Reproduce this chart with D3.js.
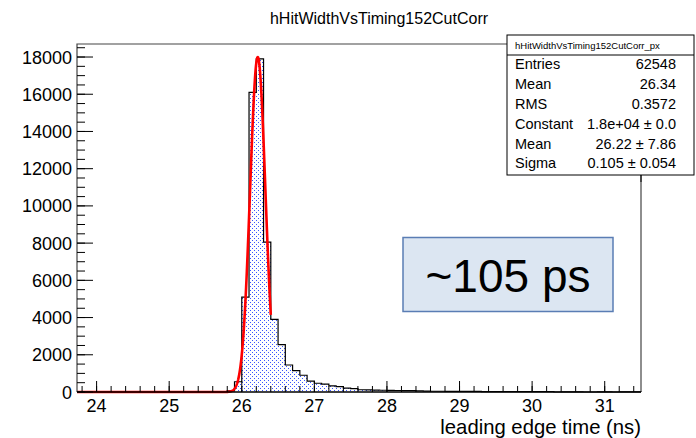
<!DOCTYPE html>
<html><head><meta charset="utf-8">
<script src="https://cdn.jsdelivr.net/npm/d3@7"></script>
<style>body{margin:0;background:#fff}svg{display:block}text{font-family:"Liberation Sans",Arial,sans-serif}</style>
</head><body><svg id="c" width="696" height="438"></svg>
<script>
// ---- data ----
const binStart = 25.7, binWidth = 0.1;
const counts = [0,60,550,5100,16100,17900,8050,3900,2550,1450,1150,900,580,470,420,330,290,210,180,
 120,110,100,95,90,80,75,70,60,
 45,40,40,35,35,30,30,30,25,25,25,20,20,20,20,15,15,15,
 0,10,10,10,0,0,10,10,0,10,10,10];
const xTicks = [24,25,26,27,28,29,30,31];
const yTicks = [0,2000,4000,6000,8000,10000,12000,14000,16000,18000];
const fitParams = {constant:18000, mean:26.22, sigma:0.105, xmin:23.73, xmax:26.4};
const statsLabels = ["Entries","Mean","RMS","Constant","Mean","Sigma"];
const statsValues = ["62548","26.34","0.3572","1.8e+04 \u00b1 0.0","26.22 \u00b1 7.86","0.105 \u00b1 0.054"];
const title = "hHitWidthVsTiming152CutCorr";
const statsTitle = "hHitWidthVsTiming152CutCorr_px";
const xTitle = "leading edge time (ns)";
const note = "~105 ps";

// ---- layout ----
const svg = d3.select("#c");
const L=77,R=641,T=44,B=392;
const x = d3.scaleLinear().domain([23.73,31.5]).range([L,R]);
const y = d3.scaleLinear().domain([0,18700]).range([B,T]);

const defs = svg.append("defs");
const pat = defs.append("pattern").attr("id","dots").attr("patternUnits","userSpaceOnUse")
  .attr("width",4).attr("height",4);
pat.append("rect").attr("x",0).attr("y",0).attr("width",1).attr("height",1).attr("fill","#3a55ff");
pat.append("rect").attr("x",2).attr("y",2).attr("width",1).attr("height",1).attr("fill","#3a55ff");

// histogram
const pts = [];
counts.forEach((c,i)=>{pts.push([binStart+i*binWidth,c]);});
pts.push([binStart+counts.length*binWidth, counts[counts.length-1]]);
const area = d3.area().curve(d3.curveStepAfter).x(d=>x(d[0])).y0(B).y1(d=>y(d[1]));
const line = d3.line().curve(d3.curveStepAfter).x(d=>x(d[0])).y(d=>y(d[1]));
svg.append("path").attr("d",area(pts)).attr("fill","url(#dots)");
const full = [[23.73,0],[binStart,0]].concat(pts).concat([[31.5,0]]);
svg.append("path").attr("d",line(full)).attr("fill","none").attr("stroke","#000").attr("stroke-width",1.2);

// fit
const fp = [];
for(let v=fitParams.xmin; v<=fitParams.xmax+1e-9; v+=0.005){
  fp.push([v, fitParams.constant*Math.exp(-0.5*Math.pow((v-fitParams.mean)/fitParams.sigma,2))]);
}
svg.append("path").attr("d",d3.line().x(d=>x(d[0])).y(d=>y(d[1]))(fp))
  .attr("fill","none").attr("stroke","#ff0000").attr("stroke-width",2.6).attr("stroke-linejoin","round");

// frame
svg.append("path").attr("d",`M${L},${B}V${T}H${R}V${B}`).attr("fill","none").attr("stroke","#444").attr("stroke-width",1.2);
svg.append("line").attr("x1",L).attr("x2",R).attr("y1",B).attr("y2",B).attr("stroke","#000").attr("stroke-width",1.4);

// x ticks
const gx = svg.append("g");
const xMinor = d3.range(23.8, 31.5, 0.2).filter(v=>v>23.73);
xMinor.forEach(v=>{gx.append("line").attr("x1",x(v)).attr("x2",x(v)).attr("y1",B).attr("y2",B-6).attr("stroke","#000");});
xTicks.forEach(v=>{
  gx.append("line").attr("x1",x(v)).attr("x2",x(v)).attr("y1",B).attr("y2",B-11).attr("stroke","#000");
  gx.append("text").attr("x",x(v)).attr("y",412).attr("text-anchor","middle").attr("font-size",18).attr("fill","#000").text(v);
});
// y ticks
const gy = svg.append("g");
d3.range(0,18701,500).forEach(v=>{gy.append("line").attr("x1",L).attr("x2",L+8).attr("y1",y(v)).attr("y2",y(v)).attr("stroke","#000");});
yTicks.forEach(v=>{
  gy.append("line").attr("x1",L).attr("x2",L+16).attr("y1",y(v)).attr("y2",y(v)).attr("stroke","#000");
  gy.append("text").attr("x",72).attr("y",y(v)+6.5).attr("text-anchor","end").attr("font-size",18).attr("fill","#000").text(v);
});

// titles
svg.append("text").attr("x",379).attr("y",24).attr("text-anchor","middle").attr("font-size",16).text(title);
svg.append("text").attr("x",641).attr("y",434).attr("text-anchor","end").attr("font-size",20.3).text(xTitle);

// stats box
const sb = svg.append("g");
sb.append("line").attr("x1",R).attr("x2",R).attr("y1",T).attr("y2",182).attr("stroke","#000");
sb.append("rect").attr("x",507).attr("y",35).attr("width",187).attr("height",140).attr("fill","#fff").attr("stroke","#000");
sb.append("line").attr("x1",507).attr("x2",694).attr("y1",55).attr("y2",55).attr("stroke","#000");
sb.append("text").attr("x",515).attr("y",48.5).attr("font-size",9.5).text(statsTitle);
statsLabels.forEach((t,i)=>{
  const cy = 64.3+i*19.8;
  sb.append("text").attr("x",515).attr("y",cy+5).attr("font-size",14.5).text(t);
  sb.append("text").attr("x",676).attr("y",cy+5).attr("text-anchor","end").attr("font-size",14.5).text(statsValues[i]);
});

// annotation
svg.append("rect").attr("x",403).attr("y",237.5).attr("width",210).attr("height",74)
  .attr("fill","#dce6f2").attr("stroke","#5a7db4").attr("stroke-width",1.5);
svg.append("text").attr("x",508).attr("y",292).attr("text-anchor","middle").attr("font-size",46).text(note);
</script></body></html>
